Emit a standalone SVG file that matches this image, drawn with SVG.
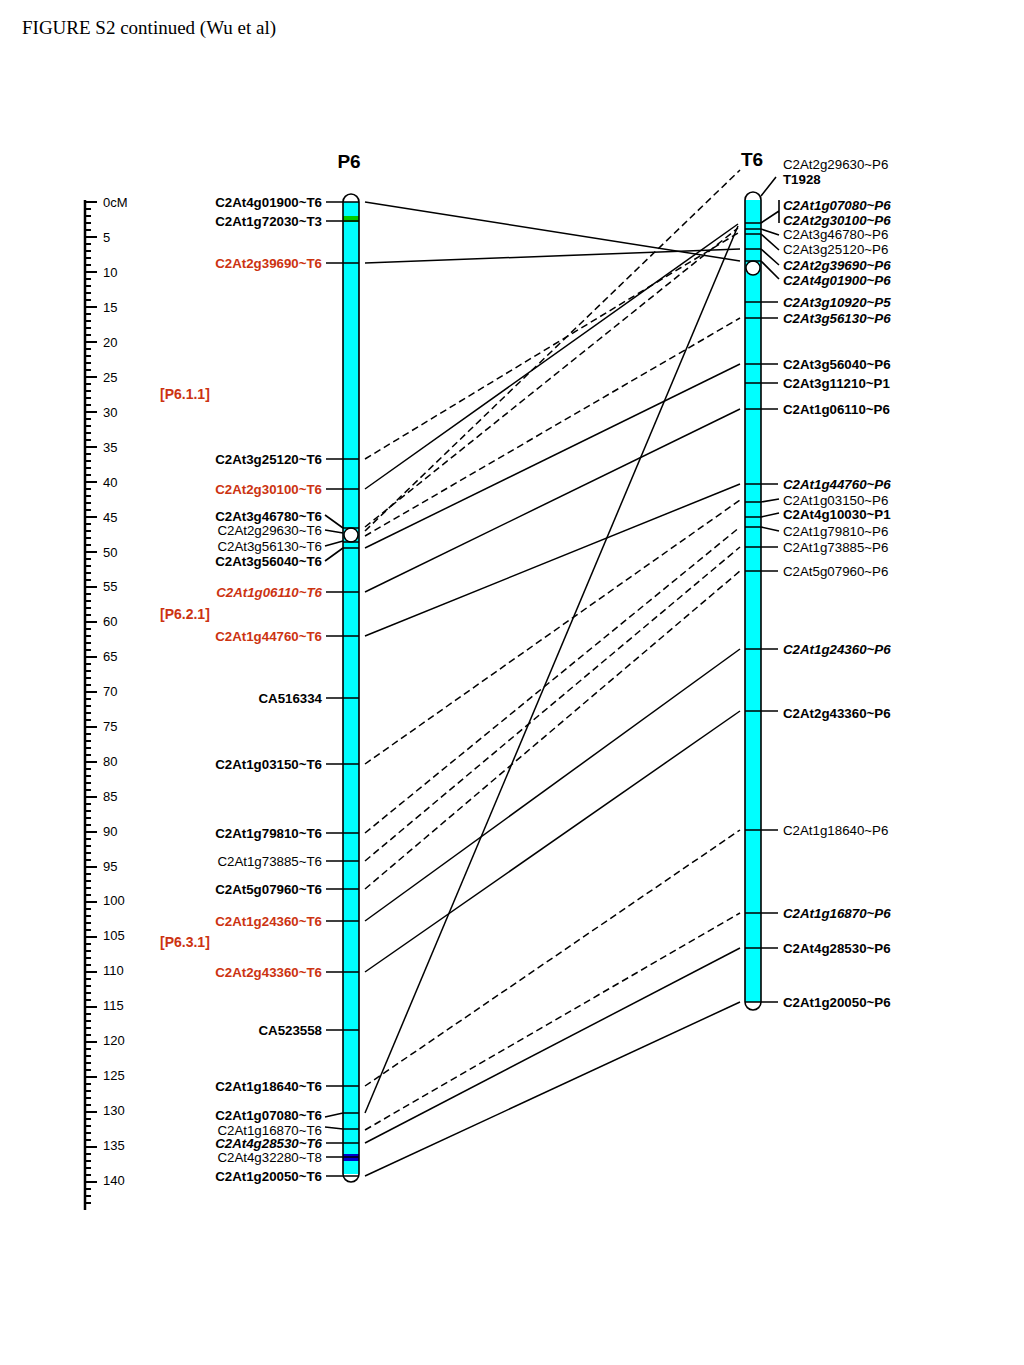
<svg xmlns="http://www.w3.org/2000/svg" width="1024" height="1365" viewBox="0 0 1024 1365">
<style>
text{font-family:"Liberation Sans",Arial,sans-serif;font-size:13.3px;fill:#000}
.b{font-weight:bold}
.bi{font-weight:bold;font-style:italic}
.r{fill:#cc3311}
.e{text-anchor:end}
.t{stroke:#000;stroke-width:1.6;fill:none}
.c{stroke:#000;stroke-width:1.5;fill:none}
.d{stroke-dasharray:7 4}
.title{font-family:"Liberation Serif","Times New Roman",serif;font-size:19px}
.ch{font-size:19px;font-weight:bold;text-anchor:middle}
.grp{font-size:14px;font-weight:bold;fill:#cc3311}
.rl{font-size:13px}
</style>
<rect width="1024" height="1365" fill="#fff"/>
<text class="title" x="22" y="34">FIGURE S2 continued (Wu et al)</text>

<g id="ruler">
<line x1="85" y1="200" x2="85" y2="1210" stroke="#000" stroke-width="2.5"/>
<path id="ticks" stroke="#000" stroke-width="1.8" fill="none" d="M85 202H97M85 209H91M85 216H91M85 223H91M85 230H91M85 237H97M85 244H91M85 251H91M85 258H91M85 265H91M85 272H97M85 279H91M85 286H91M85 293H91M85 300H91M85 307H97M85 314H91M85 321H91M85 328H91M85 335H91M85 342H97M85 349H91M85 356H91M85 363H91M85 370H91M85 377H97M85 384H91M85 391H91M85 398H91M85 405H91M85 412H97M85 419H91M85 426H91M85 433H91M85 440H91M85 447H97M85 454H91M85 461H91M85 468H91M85 475H91M85 482H97M85 489H91M85 496H91M85 503H91M85 510H91M85 517H97M85 524H91M85 531H91M85 538H91M85 545H91M85 552H97M85 559H91M85 566H91M85 573H91M85 580H91M85 587H97M85 594H91M85 601H91M85 608H91M85 615H91M85 622H97M85 629H91M85 636H91M85 643H91M85 650H91M85 657H97M85 664H91M85 671H91M85 678H91M85 685H91M85 692H97M85 699H91M85 706H91M85 713H91M85 720H91M85 727H97M85 734H91M85 741H91M85 748H91M85 755H91M85 762H97M85 769H91M85 776H91M85 783H91M85 790H91M85 797H97M85 804H91M85 811H91M85 818H91M85 825H91M85 832H97M85 839H91M85 846H91M85 853H91M85 860H91M85 867H97M85 874H91M85 881H91M85 888H91M85 895H91M85 902H97M85 909H91M85 916H91M85 923H91M85 930H91M85 937H97M85 944H91M85 951H91M85 958H91M85 965H91M85 972H97M85 979H91M85 986H91M85 993H91M85 1000H91M85 1007H97M85 1014H91M85 1021H91M85 1028H91M85 1035H91M85 1042H97M85 1049H91M85 1056H91M85 1063H91M85 1070H91M85 1077H97M85 1084H91M85 1091H91M85 1098H91M85 1105H91M85 1112H97M85 1119H91M85 1126H91M85 1133H91M85 1140H91M85 1147H97M85 1154H91M85 1161H91M85 1168H91M85 1175H91M85 1182H97M85 1189H91M85 1196H91M85 1203H91"/>
<g id="ruler-labels" class="rl">
<text class="rl" x="103" y="207">0cM</text>
<text class="rl" x="103" y="242">5</text>
<text class="rl" x="103" y="277">10</text>
<text class="rl" x="103" y="312">15</text>
<text class="rl" x="103" y="347">20</text>
<text class="rl" x="103" y="382">25</text>
<text class="rl" x="103" y="417">30</text>
<text class="rl" x="103" y="452">35</text>
<text class="rl" x="103" y="487">40</text>
<text class="rl" x="103" y="522">45</text>
<text class="rl" x="103" y="557">50</text>
<text class="rl" x="103" y="591">55</text>
<text class="rl" x="103" y="626">60</text>
<text class="rl" x="103" y="661">65</text>
<text class="rl" x="103" y="696">70</text>
<text class="rl" x="103" y="731">75</text>
<text class="rl" x="103" y="766">80</text>
<text class="rl" x="103" y="801">85</text>
<text class="rl" x="103" y="836">90</text>
<text class="rl" x="103" y="871">95</text>
<text class="rl" x="103" y="905">100</text>
<text class="rl" x="103" y="940">105</text>
<text class="rl" x="103" y="975">110</text>
<text class="rl" x="103" y="1010">115</text>
<text class="rl" x="103" y="1045">120</text>
<text class="rl" x="103" y="1080">125</text>
<text class="rl" x="103" y="1115">130</text>
<text class="rl" x="103" y="1150">135</text>
<text class="rl" x="103" y="1185">140</text>
</g>
</g>

<g id="connectors">
<line class="c" x1="365" y1="202" x2="740" y2="261"/>
<line class="c" x1="365" y1="263" x2="740" y2="249"/>
<line class="c" x1="365" y1="489" x2="738" y2="224"/>
<line class="c" x1="365" y1="548" x2="740" y2="364"/>
<line class="c" x1="365" y1="592" x2="740" y2="409"/>
<line class="c" x1="365" y1="636" x2="740" y2="484"/>
<line class="c" x1="365" y1="921" x2="740" y2="649"/>
<line class="c" x1="365" y1="972" x2="740" y2="711"/>
<line class="c" x1="365" y1="1113" x2="738" y2="226"/>
<line class="c" x1="365" y1="1143" x2="740" y2="948"/>
<line class="c" x1="365" y1="1176" x2="740" y2="1002"/>
<line class="c d" x1="365" y1="459" x2="738" y2="233"/>
<line class="c d" x1="365" y1="527" x2="738" y2="228"/>
<line class="c d" x1="365" y1="531" x2="740" y2="170"/>
<line class="c d" x1="365" y1="536" x2="740" y2="318"/>
<line class="c d" x1="365" y1="764" x2="740" y2="500"/>
<line class="c d" x1="365" y1="833" x2="740" y2="527"/>
<line class="c d" x1="365" y1="861" x2="740" y2="547"/>
<line class="c d" x1="365" y1="889" x2="740" y2="571"/>
<line class="c d" x1="365" y1="1086" x2="740" y2="830"/>
<line class="c d" x1="365" y1="1130" x2="740" y2="913"/>
</g>

<g id="P6">
<text class="ch" x="349" y="168">P6</text>
<rect x="343" y="194" width="16" height="988" rx="8" fill="#fff"/>
<rect x="343" y="202" width="16" height="972" fill="#00ffff"/>
<rect x="343" y="216" width="16" height="6" fill="#00cc00"/>
<rect x="343" y="1154" width="16" height="7" fill="#0000cc"/>
<rect x="343" y="194" width="16" height="988" rx="8" class="t" stroke-width="1.8"/>
<circle cx="351" cy="535" r="7" fill="#fff" stroke="#000" stroke-width="1.5"/>
<path class="t" d="M326 202H359M326 221H359M326 263H359M326 459H359M326 489H359M343 528H359M343 542H359M343 548H359M326 592H359M326 636H359M326 698H359M326 764H359M326 833H359M326 861H359M326 889H359M326 921H359M326 972H359M326 1030H359M326 1086H359M343 1113H359M343 1129H359M326 1143H359M326 1157H359M326 1176H359"/>
<path class="t" d="M325 515L343 528M325 530L343 533M325 546L343 541M325 561L343 548M325 1117L343 1113M325 1127L343 1129"/>
<text class="grp" x="160" y="399">[P6.1.1]</text>
<text class="grp" x="160" y="619">[P6.2.1]</text>
<text class="grp" x="160" y="947">[P6.3.1]</text>
<text class="e b" x="322" y="206.5">C2At4g01900~T6</text>
<text class="e b" x="322" y="225.5">C2At1g72030~T3</text>
<text class="e b r" x="322" y="267.5">C2At2g39690~T6</text>
<text class="e b" x="322" y="463.5">C2At3g25120~T6</text>
<text class="e b r" x="322" y="493.5">C2At2g30100~T6</text>
<text class="e b" x="322" y="520.5">C2At3g46780~T6</text>
<text class="e" x="322" y="534.5">C2At2g29630~T6</text>
<text class="e" x="322" y="550.5">C2At3g56130~T6</text>
<text class="e b" x="322" y="565.5">C2At3g56040~T6</text>
<text class="e bi r" x="322" y="596.5">C2At1g06110~T6</text>
<text class="e b r" x="322" y="640.5">C2At1g44760~T6</text>
<text class="e b" x="322" y="702.5">CA516334</text>
<text class="e b" x="322" y="768.5">C2At1g03150~T6</text>
<text class="e b" x="322" y="837.5">C2At1g79810~T6</text>
<text class="e" x="322" y="865.5">C2At1g73885~T6</text>
<text class="e b" x="322" y="893.5">C2At5g07960~T6</text>
<text class="e b r" x="322" y="925.5">C2At1g24360~T6</text>
<text class="e b r" x="322" y="976.5">C2At2g43360~T6</text>
<text class="e b" x="322" y="1034.5">CA523558</text>
<text class="e b" x="322" y="1090.5">C2At1g18640~T6</text>
<text class="e b" x="322" y="1119.5">C2At1g07080~T6</text>
<text class="e" x="322" y="1134.5">C2At1g16870~T6</text>
<text class="e bi" x="322" y="1147.5">C2At4g28530~T6</text>
<text class="e" x="322" y="1161.5">C2At4g32280~T8</text>
<text class="e b" x="322" y="1180.5">C2At1g20050~T6</text>
</g>

<g id="T6">
<text class="ch" x="752" y="166">T6</text>
<rect x="745" y="192" width="16" height="818" rx="8" fill="#fff"/>
<rect x="745" y="200" width="16" height="802" fill="#00ffff"/>
<rect x="745" y="192" width="16" height="818" rx="8" class="t" stroke-width="1.8"/>
<circle cx="753" cy="268" r="7" fill="#fff" stroke="#000" stroke-width="1.5"/>
<path class="t" d="M745 223H761M745 229H761M745 234H761M745 249H761M745 261H761M745 302H778M745 318H778M745 364H778M745 383H778M745 409H778M745 484H778M745 502H761M745 517H761M745 527H761M745 547H778M745 571H778M745 649H778M745 711H778M745 830H778M745 913H778M745 948H778M745 1002H778"/>
<path class="t" d="M776 177L761 196M779 200V223M761 223L779 211M761 229L779 235M761 234L779 250M761 249L779 265M761 261L779 279M761 502L779 499M761 517L779 513M761 527L779 531"/>
<text x="783" y="168.5">C2At2g29630~P6</text>
<text class="b" x="783" y="183.5">T1928</text>
<text class="bi" x="783" y="209.5">C2At1g07080~P6</text>
<text class="bi" x="783" y="224.5">C2At2g30100~P6</text>
<text x="783" y="238.5">C2At3g46780~P6</text>
<text x="783" y="253.5">C2At3g25120~P6</text>
<text class="bi" x="783" y="269.5">C2At2g39690~P6</text>
<text class="bi" x="783" y="284.5">C2At4g01900~P6</text>
<text class="bi" x="783" y="306.5">C2At3g10920~P5</text>
<text class="bi" x="783" y="322.5">C2At3g56130~P6</text>
<text class="b" x="783" y="368.5">C2At3g56040~P6</text>
<text class="b" x="783" y="387.5">C2At3g11210~P1</text>
<text class="b" x="783" y="413.5">C2At1g06110~P6</text>
<text class="bi" x="783" y="488.5">C2At1g44760~P6</text>
<text x="783" y="504.5">C2At1g03150~P6</text>
<text class="b" x="783" y="518.5">C2At4g10030~P1</text>
<text x="783" y="535.5">C2At1g79810~P6</text>
<text x="783" y="551.5">C2At1g73885~P6</text>
<text x="783" y="575.5">C2At5g07960~P6</text>
<text class="bi" x="783" y="653.5">C2At1g24360~P6</text>
<text class="b" x="783" y="717.5">C2At2g43360~P6</text>
<text x="783" y="834.5">C2At1g18640~P6</text>
<text class="bi" x="783" y="917.5">C2At1g16870~P6</text>
<text class="b" x="783" y="952.5">C2At4g28530~P6</text>
<text class="b" x="783" y="1006.5">C2At1g20050~P6</text>
</g>
</svg>
